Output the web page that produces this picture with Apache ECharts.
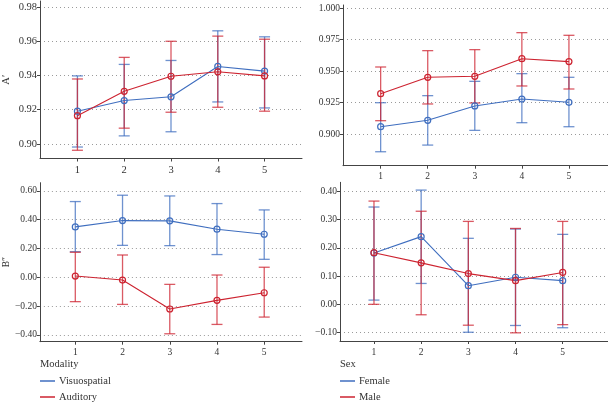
<!DOCTYPE html>
<html><head><meta charset="utf-8">
<script src="https://cdn.jsdelivr.net/npm/echarts@6/dist/echarts.min.js"></script>
<style>html,body{margin:0;padding:0;background:#fff}#c{width:608px;height:402px}</style>
</head><body><div id="c"></div>
<script>
// ---- data ----
const sessions = [1, 2, 3, 4, 5];
// A' by modality
const aVisMean = [0.9191, 0.9253, 0.9275, 0.9452, 0.9425];
const aVisLow  = [0.8982, 0.9047, 0.9071, 0.9245, 0.9210];
const aVisHigh = [0.9397, 0.9464, 0.9487, 0.9660, 0.9625];
const aAudMean = [0.9165, 0.9307, 0.9395, 0.9421, 0.9397];
const aAudLow  = [0.8963, 0.9092, 0.9185, 0.9214, 0.9191];
const aAudHigh = [0.9379, 0.9505, 0.9599, 0.9629, 0.9611];
// A' by sex
const aFemMean = [0.9058, 0.9109, 0.9223, 0.9278, 0.9252];
const aFemLow  = [0.8859, 0.8912, 0.9029, 0.9090, 0.9058];
const aFemHigh = [0.9249, 0.9305, 0.9419, 0.9480, 0.9451];
const aMalMean = [0.9321, 0.9451, 0.9459, 0.9599, 0.9576];
const aMalLow  = [0.9106, 0.9239, 0.9247, 0.9382, 0.9358];
const aMalHigh = [0.9533, 0.9663, 0.9671, 0.9806, 0.9785];
// B'' by modality
const bVisMean = [0.350, 0.394, 0.392, 0.334, 0.299];
const bVisLow  = [0.178, 0.222, 0.220, 0.158, 0.125];
const bVisHigh = [0.526, 0.570, 0.565, 0.512, 0.468];
const bAudMean = [0.009, -0.019, -0.220, -0.160, -0.107];
const bAudLow  = [-0.169, -0.188, -0.392, -0.327, -0.276];
const bAudHigh = [0.174, 0.155, -0.049, 0.016, 0.070];
// B'' by sex
const bFemMean = [0.182, 0.240, 0.066, 0.096, 0.084];
const bFemLow  = [0.015, 0.074, -0.099, -0.075, -0.083];
const bFemHigh = [0.345, 0.405, 0.234, 0.267, 0.248];
const bMalMean = [0.183, 0.147, 0.109, 0.084, 0.113];
const bMalLow  = [0.000, -0.037, -0.074, -0.101, -0.072];
const bMalHigh = [0.366, 0.330, 0.294, 0.269, 0.294];
// tick labels
const yTicksTL = [0.90, 0.92, 0.94, 0.96, 0.98];
const yTicksTR = [0.900, 0.925, 0.950, 0.975, 1.000];
const yTicksBL = [-0.40, -0.20, 0.00, 0.20, 0.40, 0.60];
const yTicksBR = [-0.10, 0.00, 0.10, 0.20, 0.30, 0.40];

// ---- style ----
const BLUE = '#3F6EBF';
const RED = '#CD2330';
const FONT = 'Liberation Serif';
const TXT = '#333';

function fmt(v, d) {
  const s = Math.abs(v).toFixed(d);
  return (v < -1e-9 ? '\u2212' : '') + s;
}

function xAxis(idx, min, max, fs) {
  return {
    type: 'value', gridIndex: idx, min: min, max: max,
    axisLine: {show: true, onZero: false, lineStyle: {color: '#444', width: 1}},
    axisTick: {show: true, length: 3, customValues: sessions, lineStyle: {color: '#444'}},
    axisLabel: {customValues: sessions, fontFamily: FONT, fontSize: fs, color: TXT, margin: 6,
      formatter: v => String(Math.round(v))},
    splitLine: {show: false}
  };
}
function yAxis(idx, min, max, ticks, dec, fs, name) {
  return {
    type: 'value', gridIndex: idx, min: min, max: max,
    name: name || '', nameLocation: 'middle', nameGap: 28, nameRotate: 90,
    nameTextStyle: {fontFamily: FONT, fontSize: fs, color: TXT},
    axisLine: {show: true, onZero: false, lineStyle: {color: '#444', width: 1}},
    axisTick: {show: true, length: 3, customValues: ticks, lineStyle: {color: '#444'}},
    axisLabel: {customValues: ticks, fontFamily: FONT, fontSize: fs, color: TXT, margin: 3,
      formatter: v => fmt(v, dec)},
    splitLine: {show: true, lineStyle: {color: '#9a9a9a', type: [1, 3], width: 1}}
  };
}

function meanSeries(name, idx, means, color) {
  return {
    name: name, type: 'line', xAxisIndex: idx, yAxisIndex: idx, z: 5,
    data: sessions.map((s, i) => [s, means[i]]),
    symbol: 'circle', symbolSize: 6,
    itemStyle: {color: 'rgba(255,255,255,0)', borderColor: color, borderWidth: 1.2},
    lineStyle: {color: color, width: 1.1},
    emphasis: {disabled: true}, animation: false
  };
}
function errSeries(name, idx, low, high, color) {
  return {
    name: name, type: 'custom', xAxisIndex: idx, yAxisIndex: idx, z: 3,
    data: sessions.map((s, i) => [s, low[i], high[i]]),
    encode: {x: 0, y: [1, 2]},
    renderItem: function (params, api) {
      const lo = api.coord([api.value(0), api.value(1)]);
      const hi = api.coord([api.value(0), api.value(2)]);
      const hw = 5.5;
      const st = {stroke: color, lineWidth: 1.3, opacity: 0.75};
      return {type: 'group', children: [
        {type: 'line', shape: {x1: lo[0], y1: lo[1], x2: hi[0], y2: hi[1]}, style: st},
        {type: 'line', shape: {x1: lo[0] - hw, y1: lo[1], x2: lo[0] + hw, y2: lo[1]}, style: st},
        {type: 'line', shape: {x1: hi[0] - hw, y1: hi[1], x2: hi[0] + hw, y2: hi[1]}, style: st}
      ]};
    },
    animation: false
  };
}
function legendItem(name, color, left, top) {
  return {
    data: [name], left: left, top: top, orient: 'vertical', padding: 0,
    icon: 'rect', itemWidth: 15, itemHeight: 1.5, itemGap: 0,
    itemStyle: {color: color, borderWidth: 0},
    textStyle: {fontFamily: FONT, fontSize: 10.5, color: TXT, lineHeight: 14, padding: [0, 0, 0, -1]},
    selectedMode: false
  };
}

const option = {
  backgroundColor: '#fff',
  animation: false,
  title: [
    {text: 'Modality', left: 40, top: 359, padding: 0, textStyle: {fontFamily: FONT, fontSize: 10.5, fontWeight: 'normal', color: TXT}},
    {text: 'Sex', left: 340, top: 359, padding: 0, textStyle: {fontFamily: FONT, fontSize: 10.5, fontWeight: 'normal', color: TXT}}
  ],
  legend: [
    legendItem('Visuospatial', BLUE, 40, 374),
    legendItem('Auditory', RED, 40, 390),
    legendItem('Female', BLUE, 340, 374),
    legendItem('Male', RED, 340, 390)
  ],
  grid: [
    {left: 38, top: 1, width: 264, height: 157.5},
    {left: 343, top: 5, width: 265, height: 160.7},
    {left: 39, top: 182.7, width: 263, height: 159},
    {left: 340, top: 182.3, width: 268, height: 158.7}
  ],
  xAxis: [
    xAxis(0, 0.2, 5.8, 10.5),
    xAxis(1, 0.2, 5.83, 9.5),
    xAxis(2, 0.25, 5.8, 9.5),
    xAxis(3, 0.28, 5.96, 9.5)
  ],
  yAxis: [
    yAxis(0, 0.8915, 0.9834, yTicksTL, 2, 10.5, 'A\u2032'),
    yAxis(1, 0.8748, 1.0026, yTicksTR, 3, 9.5),
    yAxis(2, -0.447, 0.657, yTicksBL, 2, 9.5, 'B\u2033'),
    yAxis(3, -0.130, 0.4326, yTicksBR, 2, 9.5)
  ],
  series: [
    errSeries('Visuospatial', 0, aVisLow, aVisHigh, BLUE),
    errSeries('Auditory', 0, aAudLow, aAudHigh, RED),
    meanSeries('Visuospatial', 0, aVisMean, BLUE),
    meanSeries('Auditory', 0, aAudMean, RED),
    errSeries('Female', 1, aFemLow, aFemHigh, BLUE),
    errSeries('Male', 1, aMalLow, aMalHigh, RED),
    meanSeries('Female', 1, aFemMean, BLUE),
    meanSeries('Male', 1, aMalMean, RED),
    errSeries('Visuospatial', 2, bVisLow, bVisHigh, BLUE),
    errSeries('Auditory', 2, bAudLow, bAudHigh, RED),
    meanSeries('Visuospatial', 2, bVisMean, BLUE),
    meanSeries('Auditory', 2, bAudMean, RED),
    errSeries('Female', 3, bFemLow, bFemHigh, BLUE),
    errSeries('Male', 3, bMalLow, bMalHigh, RED),
    meanSeries('Female', 3, bFemMean, BLUE),
    meanSeries('Male', 3, bMalMean, RED)
  ]
};
const chart = echarts.init(document.getElementById('c'), null, {renderer: 'canvas'});
chart.setOption(option);
</script></body></html>
